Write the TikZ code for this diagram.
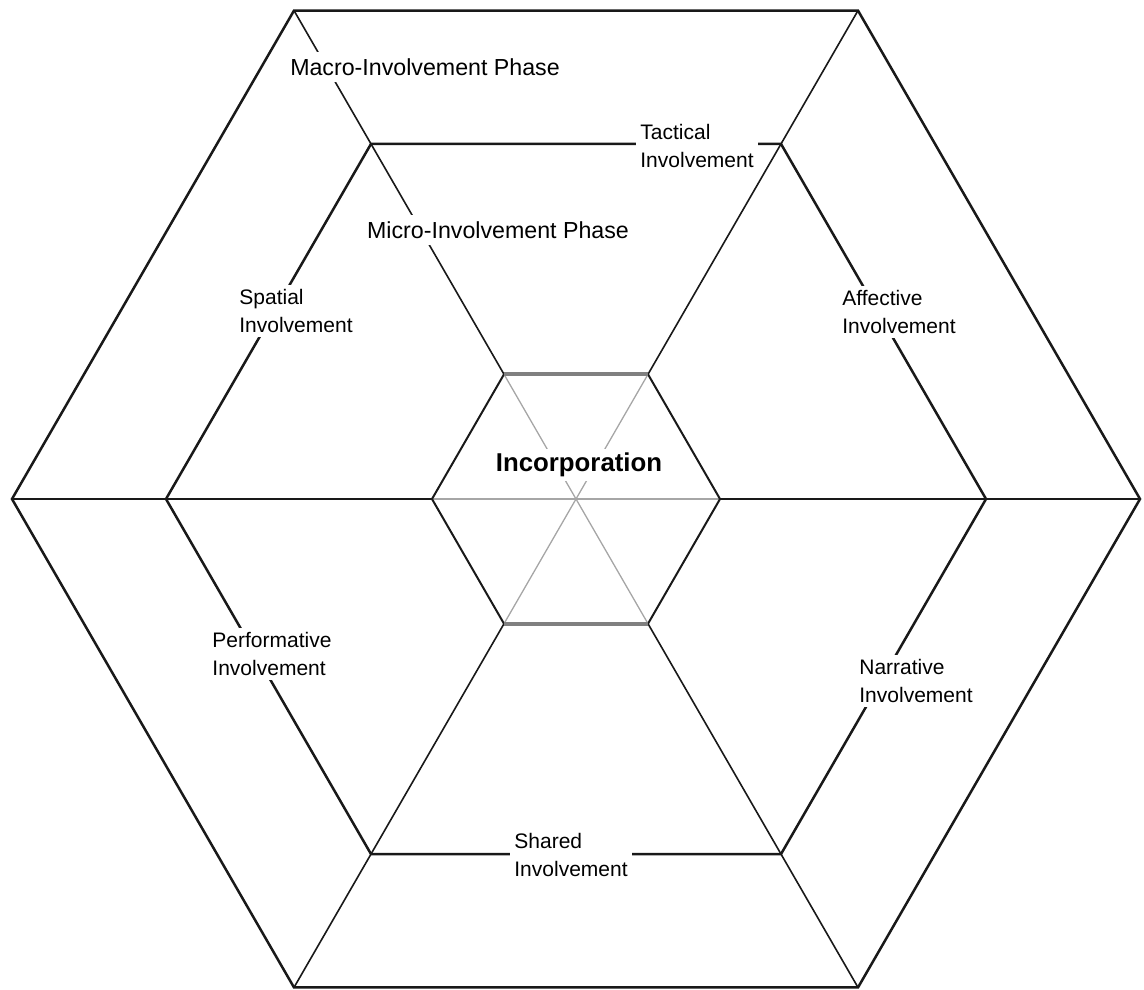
\documentclass[tikz,border=0pt]{standalone}
\usepackage{fontspec}
\setmainfont{Liberation Sans}
\usetikzlibrary{calc}

\begin{document}
\begin{tikzpicture}[x=0.5pt,y=-0.5pt,
    rim/.style={black!90, line width=1.25pt, line join=miter},
    spoke/.style={black!90, line width=0.8pt},
    hubside/.style={black!90, line width=1pt},
    hubbar/.style={gray, line width=2pt},
    core/.style={gray!70, line width=0.65pt},
    involve/.style={fill=white, align=left, inner sep=2pt, font=\fontsize{10.5}{14}\selectfont},
    phase/.style={fill=white, inner sep=3pt, font=\fontsize{11.6}{14}\selectfont},
    centre/.style={fill=white, inner sep=2pt, font=\bfseries\fontsize{12.9}{15}\selectfont}]

    \useasboundingbox (0,0) rectangle (1144,989);
    \coordinate (c) at (576,499);

    % corners of the three hexagons
    \foreach \k in {0,...,5} {
        \coordinate (out\k) at ($(c)+(\k*60:564)$);
        \coordinate (mid\k) at ($(c)+(\k*60:410)$);
        \coordinate (in\k) at ($(c)+(\k*60:144)$);
    }

    % spokes, grey inside the core
    \foreach \k in {0,...,5} {
        \draw[spoke] (out\k) -- (in\k);
        \draw[core] (in\k) -- (c);
    }

    % outer and middle hexagon
    \draw[rim] (out0) -- (out1) -- (out2) -- (out3) -- (out4) -- (out5) -- cycle;
    \draw[rim] (mid0) -- (mid1) -- (mid2) -- (mid3) -- (mid4) -- (mid5) -- cycle;

    % core hexagon
    \draw[hubside] (in5) -- (in0) -- (in1);
    \draw[hubside] (in2) -- (in3) -- (in4);
    \draw[hubbar] (in4) -- (in5);
    \draw[hubbar] (in1) -- (in2);

    % labels
    \node[phase] (macro) at (425,67) {Macro-Involvement Phase};
    \node[phase] (micro) at (498,230) {Micro-Involvement Phase};
    \node[centre] (incorp) at (579,465) {Incorporation};

    \node[involve] (tactical) at (697,146) {Tactical\\Involvement};
    \node[involve] (spatial) at (296,311) {Spatial\\Involvement};
    \node[involve] (affective) at (899,312) {Affective\\Involvement};
    \node[involve] (perform) at (272,654) {Performative\\Involvement};
    \node[involve] (narrative) at (916,681) {Narrative\\Involvement};
    \node[involve] (shared) at (571,855) {Shared\\Involvement};

\end{tikzpicture}
\end{document}
